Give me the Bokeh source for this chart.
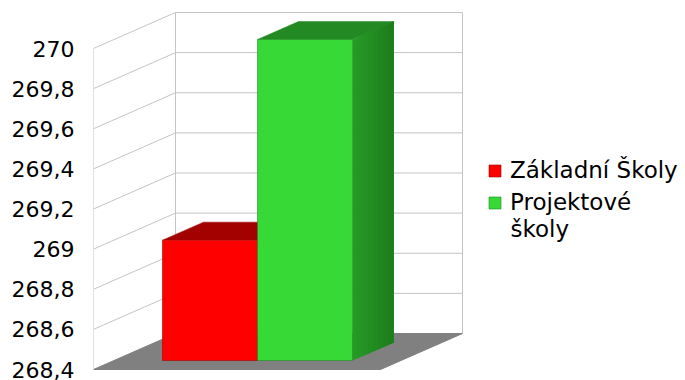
from bokeh.plotting import figure
from bokeh.models import Range1d, FixedTicker, Legend, LegendItem, Label
from bokeh.embed import file_html
from bokeh.resources import INLINE

# ---- data ----
series = ["Základní Školy", "Projektové školy"]
values = [269.0, 270.0]
colors_front = ["#ff0000", "#36d936"]
colors_top = ["#a30000", "#238a23"]
colors_side = ["#c00000", "#239423"]
tick_values = [268.4, 268.6, 268.8, 269.0, 269.2, 269.4, 269.6, 269.8, 270.0]
tick_labels = ["268,4", "268,6", "268,8", "269", "269,2", "269,4", "269,6", "269,8", "270"]

y_min, y_max = 268.4, 270.0

# ---- 3D projection constants (in data units) ----
DX = 82 / 287.0      # x-shift for full depth
DY = 36 / 200.625    # value-shift for full depth
D0, D1 = 0.25, 0.75  # bar depth range
GROUP = 0.662        # total width of the bar group (floor width = 1)

W, H = 685, 380
LEFT = 93
px_x = 287.0
px_y = 200.625
FONT = "DejaVu Sans"

p = figure(width=W, height=H, output_backend="svg", toolbar_location=None,
           x_axis_location=None, min_border_left=LEFT, min_border_right=0,
           min_border_top=0, min_border_bottom=0,
           x_range=Range1d(0, (W - LEFT) / px_x),
           y_range=Range1d(y_min - 11 / px_y, y_max + 48 / px_y))
p.outline_line_color = None
p.xgrid.visible = False
p.ygrid.visible = False
p.background_fill_color = "white"
p.border_fill_color = "white"

grid_color = "#c4c4c4"

# floor
p.patch([0, 1, 1 + DX, DX], [y_min, y_min, y_min + DY, y_min + DY],
        fill_color="#808080", line_color="#808080")

# walls gridlines
for v in tick_values[1:]:
    p.line([DX, 1 + DX], [v + DY, v + DY], line_color=grid_color, line_width=1)
    p.line([0, DX], [v, v + DY], line_color=grid_color, line_width=1)
p.line([0, 0], [y_min, y_max], line_color=grid_color, line_width=1)
p.line([DX, DX], [y_min + DY, y_max + DY], line_color=grid_color, line_width=1)
p.line([1 + DX, 1 + DX], [y_min + DY, y_max + DY], line_color=grid_color, line_width=1)

# bars
n = len(values)
bw = GROUP / n
x_start = 0.5 - GROUP / 2
front_renderers = []
for i, v in enumerate(values):
    x0 = x_start + i * bw
    x1 = x0 + bw
    b = y_min
    # right side with slight gradient (overlapping strips, left to right)
    steps = 8
    for s in range(steps):
        da = D0 + (D1 - D0) * s / steps
        if i == 1:
            t = s / (steps - 1)
            g = int(0x9a - (0x9a - 0x7e) * t)
            col = "#%02x%02x%02x" % (int(g * 0.24), g, int(g * 0.24))
        else:
            col = colors_side[i]
        p.patch([x1 + da * DX, x1 + D1 * DX, x1 + D1 * DX, x1 + da * DX],
                [b + da * DY, b + D1 * DY, v + D1 * DY, v + da * DY],
                fill_color=col, line_color=None)
    # top
    p.patch([x0 + D0 * DX, x1 + D0 * DX, x1 + D1 * DX, x0 + D1 * DX],
            [v + D0 * DY, v + D0 * DY, v + D1 * DY, v + D1 * DY],
            fill_color=colors_top[i], line_color=colors_top[i], line_width=0.5)
    # front
    r = p.patch([x0 + D0 * DX, x1 + D0 * DX, x1 + D0 * DX, x0 + D0 * DX],
                [b + D0 * DY, b + D0 * DY, v + D0 * DY, v + D0 * DY],
                fill_color=colors_front[i], line_color=colors_top[i], line_width=0.6)
    front_renderers.append(r)

# y axis
p.yaxis.ticker = FixedTicker(ticks=tick_values)
p.yaxis.major_label_overrides = {t: l for t, l in zip(tick_values, tick_labels)}
p.yaxis.axis_line_color = None
p.yaxis.major_tick_line_color = None
p.yaxis.minor_tick_line_color = None
p.yaxis.major_tick_out = 0
p.yaxis.major_tick_in = 0
p.yaxis.major_label_standoff = 19
p.yaxis.major_label_text_font = FONT
p.yaxis.major_label_text_font_size = "22px"
p.yaxis.major_label_text_color = "black"

# legend: second label wraps after its first word
words2 = series[1].split(" ")
legend = Legend(items=[LegendItem(label=series[0], renderers=[front_renderers[0]]),
                       LegendItem(label=words2[0], renderers=[front_renderers[1]])],
                location=(394, 165))
legend.padding = 0
legend.margin = 0
legend.border_line_color = None
legend.background_fill_alpha = 0
legend.glyph_width = 15
legend.glyph_height = 15
legend.label_standoff = 8
legend.spacing = 6
legend.label_height = 26
legend.label_text_font = FONT
legend.label_text_font_size = "23px"
legend.label_text_color = "black"
p.add_layout(legend)

wrap = Label(x=(510 - LEFT) / px_x, y=y_max - (228 - 48) / px_y, text=" ".join(words2[1:]),
             text_font=FONT, text_font_size="23px", text_color="black",
             text_baseline="alphabetic", text_align="left")
p.add_layout(wrap)

open("out.html", "w").write(file_html(p, INLINE))
